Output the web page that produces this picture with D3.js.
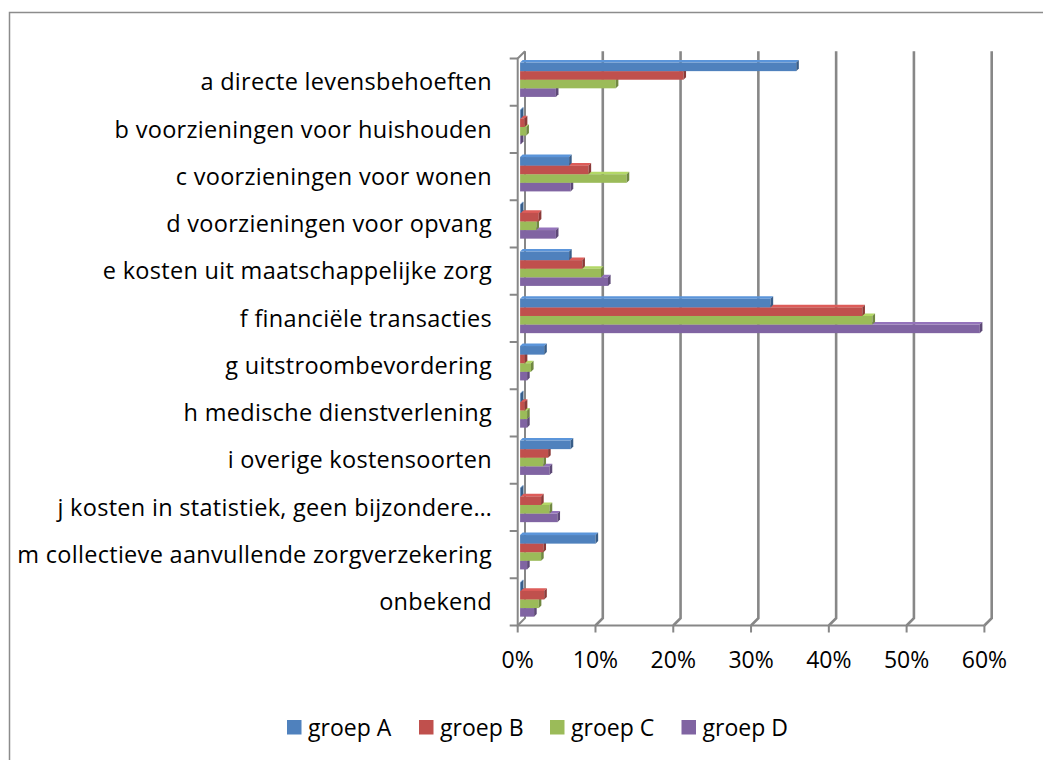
<!DOCTYPE html>
<html lang="nl">
<head>
  <meta charset="UTF-8">
  <title>Kostensoorten per groep</title>
  <script src="https://d3js.org/d3.v7.min.js"></script>
  <style>
    body { margin: 0; background: #fff; }
    text { font-family: "Open Sans", Lato, sans-serif; fill: #000; }
  </style>
</head>
<body>
  <svg width="1043" height="760"></svg>

  <script>
    var categories = [
      "a directe levensbehoeften",
      "b voorzieningen voor huishouden",
      "c voorzieningen voor wonen",
      "d voorzieningen voor opvang",
      "e kosten uit maatschappelijke zorg",
      "f financiële transacties",
      "g uitstroombevordering",
      "h medische dienstverlening",
      "i overige kostensoorten",
      "j kosten in statistiek, geen bijzondere…",
      "m collectieve aanvullende zorgverzekering",
      "onbekend"
    ];
    var seriesNames = ["groep A", "groep B", "groep C", "groep D"];
    // percentages
    var groepA = [35.5, 0.1, 6.3, 0.1, 6.3, 32.2, 3.1, 0.1, 6.5, 0.1, 9.7, 0.1];
    var groepB = [21.0, 0.6, 8.8, 2.4, 8.0, 44.0, 0.6, 0.6, 3.6, 2.7, 3.0, 3.1];
    var groepC = [12.3, 0.8, 13.7, 2.1, 10.4, 45.3, 1.4, 0.9, 3.0, 3.8, 2.7, 2.4];
    var groepD = [4.6, 0.1, 6.5, 4.6, 11.3, 59.1, 0.9, 0.9, 3.8, 4.8, 0.9, 1.8];
    var xTicks = [0, 10, 20, 30, 40, 50, 60];

    var seriesValues = [groepA, groepB, groepC, groepD];
    var colors = ["#4f81bd", "#c0504d", "#9bbb59", "#8064a2"];

    var svg = d3.select("svg");
    var depth = 7.3;      // offset of back wall
    var barDepth = 2.4;   // bars sit a bit behind the front plane
    var barSide = 2.6;    // visible thickness of bar end

    // chart frame
    svg.append("rect")
        .attr("x", 9.5).attr("y", 12.5)
        .attr("width", 1100).attr("height", 800)
        .attr("fill", "none").attr("stroke", "#8c8c8c").attr("stroke-width", 1.5);

    var x = d3.scaleLinear().domain([0, 60]).range([517.7, 984.4]);
    var y = d3.scaleBand().domain(categories).range([58.5, 625.5]);
    var ySeries = d3.scaleBand().domain(d3.range(4))
        .range([0, y.bandwidth()]).paddingOuter(0.75);

    var grid = svg.append("g").attr("stroke", "#878787").attr("fill", "none");

    // back gridlines bending onto the floor
    xTicks.forEach(function(t) {
      var xf = x(t), xb = x(t) + depth;
      grid.append("path")
          .attr("stroke-width", t === 0 ? 2 : 2.6)
          .attr("d", "M" + xb + "," + (y.range()[0] - depth) +
                     "L" + xb + "," + (y.range()[1] - depth) +
                     "L" + xf + "," + y.range()[1]);
    });

    // left axis (front edge of side wall)
    grid.append("path")
        .attr("stroke-width", 2)
        .attr("d", "M" + (x(0) + depth) + "," + (y.range()[0] - depth) +
                   "L" + x(0) + "," + y.range()[0] +
                   "L" + x(0) + "," + y.range()[1] +
                   "L" + x(60) + "," + y.range()[1]);

    // category ticks
    var yEdges = categories.map(function(c) { return y(c); }).concat([y.range()[1]]);
    yEdges.forEach(function(v) {
      grid.append("line").attr("stroke-width", 2)
          .attr("x1", x(0) - 8).attr("x2", x(0))
          .attr("y1", v).attr("y2", v);
    });
    xTicks.forEach(function(t) {
      grid.append("line").attr("stroke-width", 2)
          .attr("x1", x(t)).attr("x2", x(t))
          .attr("y1", y.range()[1]).attr("y2", y.range()[1] + 7);
    });

    // bars, drawn from the bottom series up so the upper bar covers the top face
    var bars = svg.append("g");
    categories.forEach(function(c, ci) {
      for (var s = 3; s >= 0; s--) {
        var v = seriesValues[s][ci];
        var x0 = x(0) + barDepth;
        var x1 = x(v) + barDepth;
        var y0 = y(c) + ySeries(s) - barDepth;
        var h = ySeries.bandwidth();
        var col = d3.color(colors[s]);
        var d = barSide;
        bars.append("path")
            .attr("fill", col.brighter(0.4))
            .attr("d", "M" + x0 + "," + y0 + "L" + (x0 + d) + "," + (y0 - d) +
                       "L" + (x1 + d) + "," + (y0 - d) + "L" + x1 + "," + y0 + "Z");
        bars.append("rect")
            .attr("x", x0).attr("y", y0)
            .attr("width", Math.max(0, x1 - x0)).attr("height", h)
            .attr("fill", col);
        bars.append("path")
            .attr("fill", col.darker(0.9))
            .attr("d", "M" + x1 + "," + y0 + "L" + (x1 + d) + "," + (y0 - d) +
                       "L" + (x1 + d) + "," + (y0 + h - d) + "L" + x1 + "," + (y0 + h) + "Z");
      }
    });

    // category labels
    svg.append("g").selectAll("text")
        .data(categories)
        .enter().append("text")
        .attr("x", 492)
        .attr("y", function(d) { return y(d) + y.bandwidth() / 2; })
        .attr("dy", "0.35em")
        .attr("text-anchor", "end")
        .attr("font-size", 23.5)
        .attr("letter-spacing", 0.3)
        .text(function(d) { return d; });

    // value axis labels
    svg.append("g").selectAll("text")
        .data(xTicks)
        .enter().append("text")
        .attr("x", function(d) { return x(d); })
        .attr("y", 668)
        .attr("text-anchor", "middle")
        .attr("font-size", 23)
        .text(function(d) { return d + "%"; });

    // legend
    var legendX = [287, 419, 550, 681.5];
    var legend = svg.append("g").selectAll("g")
        .data(seriesNames)
        .enter().append("g")
        .attr("transform", function(d, i) { return "translate(" + legendX[i] + ",720)"; });
    legend.append("rect")
        .attr("width", 14.5).attr("height", 14.5)
        .attr("fill", function(d, i) { return colors[i]; });
    legend.append("text")
        .attr("x", 21).attr("y", 15.5)
        .attr("font-size", 23)
        .text(function(d) { return d; });
  </script>
</body>
</html>
